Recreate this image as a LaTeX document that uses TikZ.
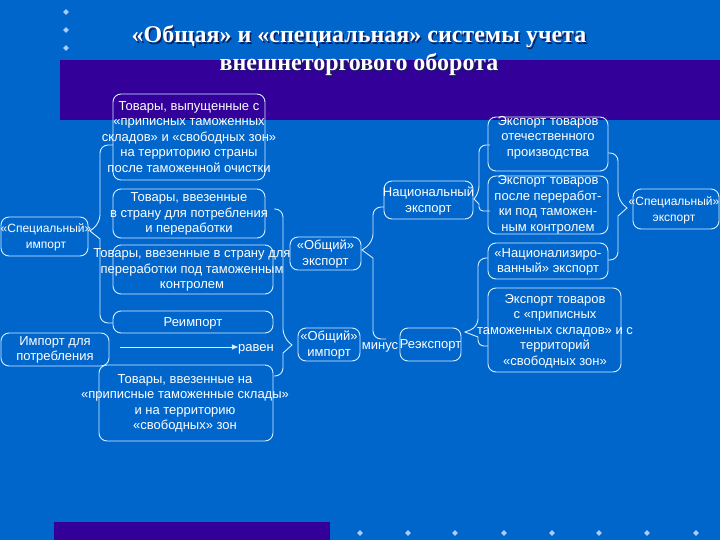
\documentclass[tikz,border=0pt]{standalone}
\usepackage{fontspec}
\setmainfont{Liberation Sans}
\newfontfamily\titlefont{Liberation Serif}
\usetikzlibrary{shapes.geometric,arrows.meta}
\definecolor{bg}{RGB}{0,102,204}
\definecolor{band}{RGB}{51,0,153}
\definecolor{ln}{RGB}{215,238,255}
\definecolor{dotc}{RGB}{170,205,255}
\definecolor{shad}{RGB}{20,30,90}
\begin{document}
\begin{tikzpicture}[x=1pt,y=-1pt,
  box/.style={draw=ln, line width=0.9pt, rounded corners=8pt, inner sep=0pt},
  txt/.style={text=white, align=center, inner sep=0pt, font=\fontsize{13}{15.5}\selectfont},
  small/.style={font=\fontsize{12}{16}\selectfont},
  brace/.style={draw=ln, line width=0.9pt},
  ttl/.style={font=\titlefont\bfseries\fontsize{24}{28}\selectfont, inner sep=0pt, anchor=base},
  bullet/.style={diamond, fill=dotc, minimum size=6pt, inner sep=0pt}
]
\fill[bg] (0,0) rectangle (720,540);
\useasboundingbox (0,0) rectangle (720,540);
\fill[band] (60,60) rectangle (720,120);
\fill[band] (54,522) rectangle (330,540);

% bullets
\foreach \yy [count=\i] in {12,30,48} \node[bullet] (lb\i) at (66,\yy) {};
\foreach \xx [count=\i] in {360,408,455,504,552,599,647,696} \node[bullet] (bb\i) at (\xx,533) {};

% title
\node[ttl, text=shad] (tt1s) at (360.5,44.5) {«Общая» и «специальная» системы учета};
\node[ttl, text=shad] (tt2s) at (360.5,72.5) {внешнеторгового оборота};
\node[ttl, text=white] (tt1) at (359,43) {«Общая» и «специальная» системы учета};
\node[ttl, text=white] (tt2) at (359,71) {внешнеторгового оборота};

% boxes
\node[box, minimum width=152, minimum height=86] (b1) at (189,137) {};
\node[box, minimum width=152, minimum height=49] (b2) at (189,213.5) {};
\node[box, minimum width=160, minimum height=49] (b3) at (193,269.5) {};
\node[box, minimum width=160, minimum height=22] (b4) at (193,322) {};
\node[box, minimum width=87, minimum height=39] (b5) at (44.5,236.5) {};
\node[box, minimum width=108, minimum height=33] (b6) at (55,349.5) {};
\node[box, minimum width=174, minimum height=76] (b8) at (186,403) {};
\node[box, minimum width=62, minimum height=33] (gi) at (329,344.5) {};
\node[box, minimum width=61, minimum height=33] (re) at (430.5,344.5) {};
\node[box, minimum width=71, minimum height=33] (ge) at (325.5,253.5) {};
\node[box, minimum width=89, minimum height=38] (ne) at (428.5,200) {};
\node[box, minimum width=120, minimum height=54] (e1) at (548,144) {};
\node[box, minimum width=120, minimum height=58] (e2) at (548,205) {};
\node[box, minimum width=120, minimum height=36] (e3) at (548,261) {};
\node[box, minimum width=133, minimum height=84] (e4) at (554.5,330) {};
\node[box, minimum width=86, minimum height=40] (se) at (676,209) {};

% texts
\node[txt] (x1) at (189,137) {Товары, выпущенные с\\«приписных таможенных\\складов» и «свободных зон»\\на территорию страны\\после таможенной очистки};
\node[txt] (x2) at (189,214) {Товары, ввезенные\\в страну для потребления\\и переработки};
\node[txt] (x3) at (192,270) {Товары, ввезенные в страну для\\переработки под таможенным\\контролем};
\node[txt] (x4) at (193,323) {Реимпорт};
\node[txt, small] (x5) at (46,237) {«Специальный»\\импорт};
\node[txt] (x6) at (55,350) {Импорт для\\потребления};
\node[txt] (x8) at (185,403.5) {Товары, ввезенные на\\«приписные таможенные склады»\\и на территорию\\«свободных» зон};
\node[txt] (xgi) at (329,345) {«Общий»\\импорт};
\node[txt] (xre) at (430.5,345) {Реэкспорт};
\node[txt] (xge) at (325.5,254) {«Общий»\\экспорт};
\node[txt] (xne) at (428.5,201) {Национальный\\экспорт};
\node[txt] (xe1) at (548,137.5) {Экспорт товаров\\отечественного\\производства};
\node[txt] (xe2) at (548,205) {Экспорт товаров\\после переработ-\\ки под таможен-\\ным контролем};
\node[txt] (xe3) at (548,262) {«Национализиро-\\ванный» экспорт};
\node[txt] (xe4) at (555,331) {Экспорт товаров\\с «приписных\\таможенных складов» и с\\территорий\\«свободных зон»};
\node[txt, small] (xse) at (674,210) {«Специальный»\\экспорт};
\node[txt] (rav) at (256,349) {равен};
\node[txt] (min) at (380,347) {минус};

% arrow
\coordinate (a0) at (120,347);
\draw[draw=ln, line width=0.9pt, -{Triangle[length=6pt,width=5pt]}] (a0) -- (a0 -| rav.west);

% braces
\coordinate (bAt) at (113,145); \coordinate (bAtip) at (90,231); \coordinate (bAb) at (113,323);
\draw[brace] (bAt) [rounded corners=8pt] -| (100,223) [sharp corners] -- (bAtip) -- (100,239) [rounded corners=8pt] |- (bAb);

\coordinate (bBt) at (274,209); \coordinate (bBtip) at (292,345); \coordinate (bBb) at (274,376);
\draw[brace] (bBt) [rounded corners=8pt] -| (283,337) [sharp corners] -- (bBtip) -- (283,353) [rounded corners=8pt] |- (bBb);

\coordinate (bCt) at (384,207); \coordinate (bCtip) at (362,250); \coordinate (bCb) at (386,339);
\draw[brace] (bCt) [rounded corners=8pt] -| (373,242) [sharp corners] -- (bCtip) -- (373,258) [rounded corners=8pt] |- (bCb);

\coordinate (bDt) at (490,145); \coordinate (bDtip) at (474,199); \coordinate (bDb) at (490,211);
\draw[brace] (bDt) [rounded corners=7pt] -| (479,193) [sharp corners] -- (bDtip) -- (479,204) [rounded corners=4pt] |- (bDb);

\coordinate (bEt) at (608,153); \coordinate (bEtip) at (627,208); \coordinate (bEb) at (608,260);
\draw[brace] (bEt) [rounded corners=8pt] -| (618,200) [sharp corners] -- (bEtip) -- (618,216) [rounded corners=8pt] |- (bEb);

\coordinate (bFt) at (488,258); \coordinate (bFtip) at (465,332); \coordinate (bFb) at (488,346);
\draw[brace] (bFt) [rounded corners=8pt] -| (478,327) [sharp corners] -- (bFtip) -- (478,337) [rounded corners=6pt] |- (bFb);
\end{tikzpicture}
\end{document}
